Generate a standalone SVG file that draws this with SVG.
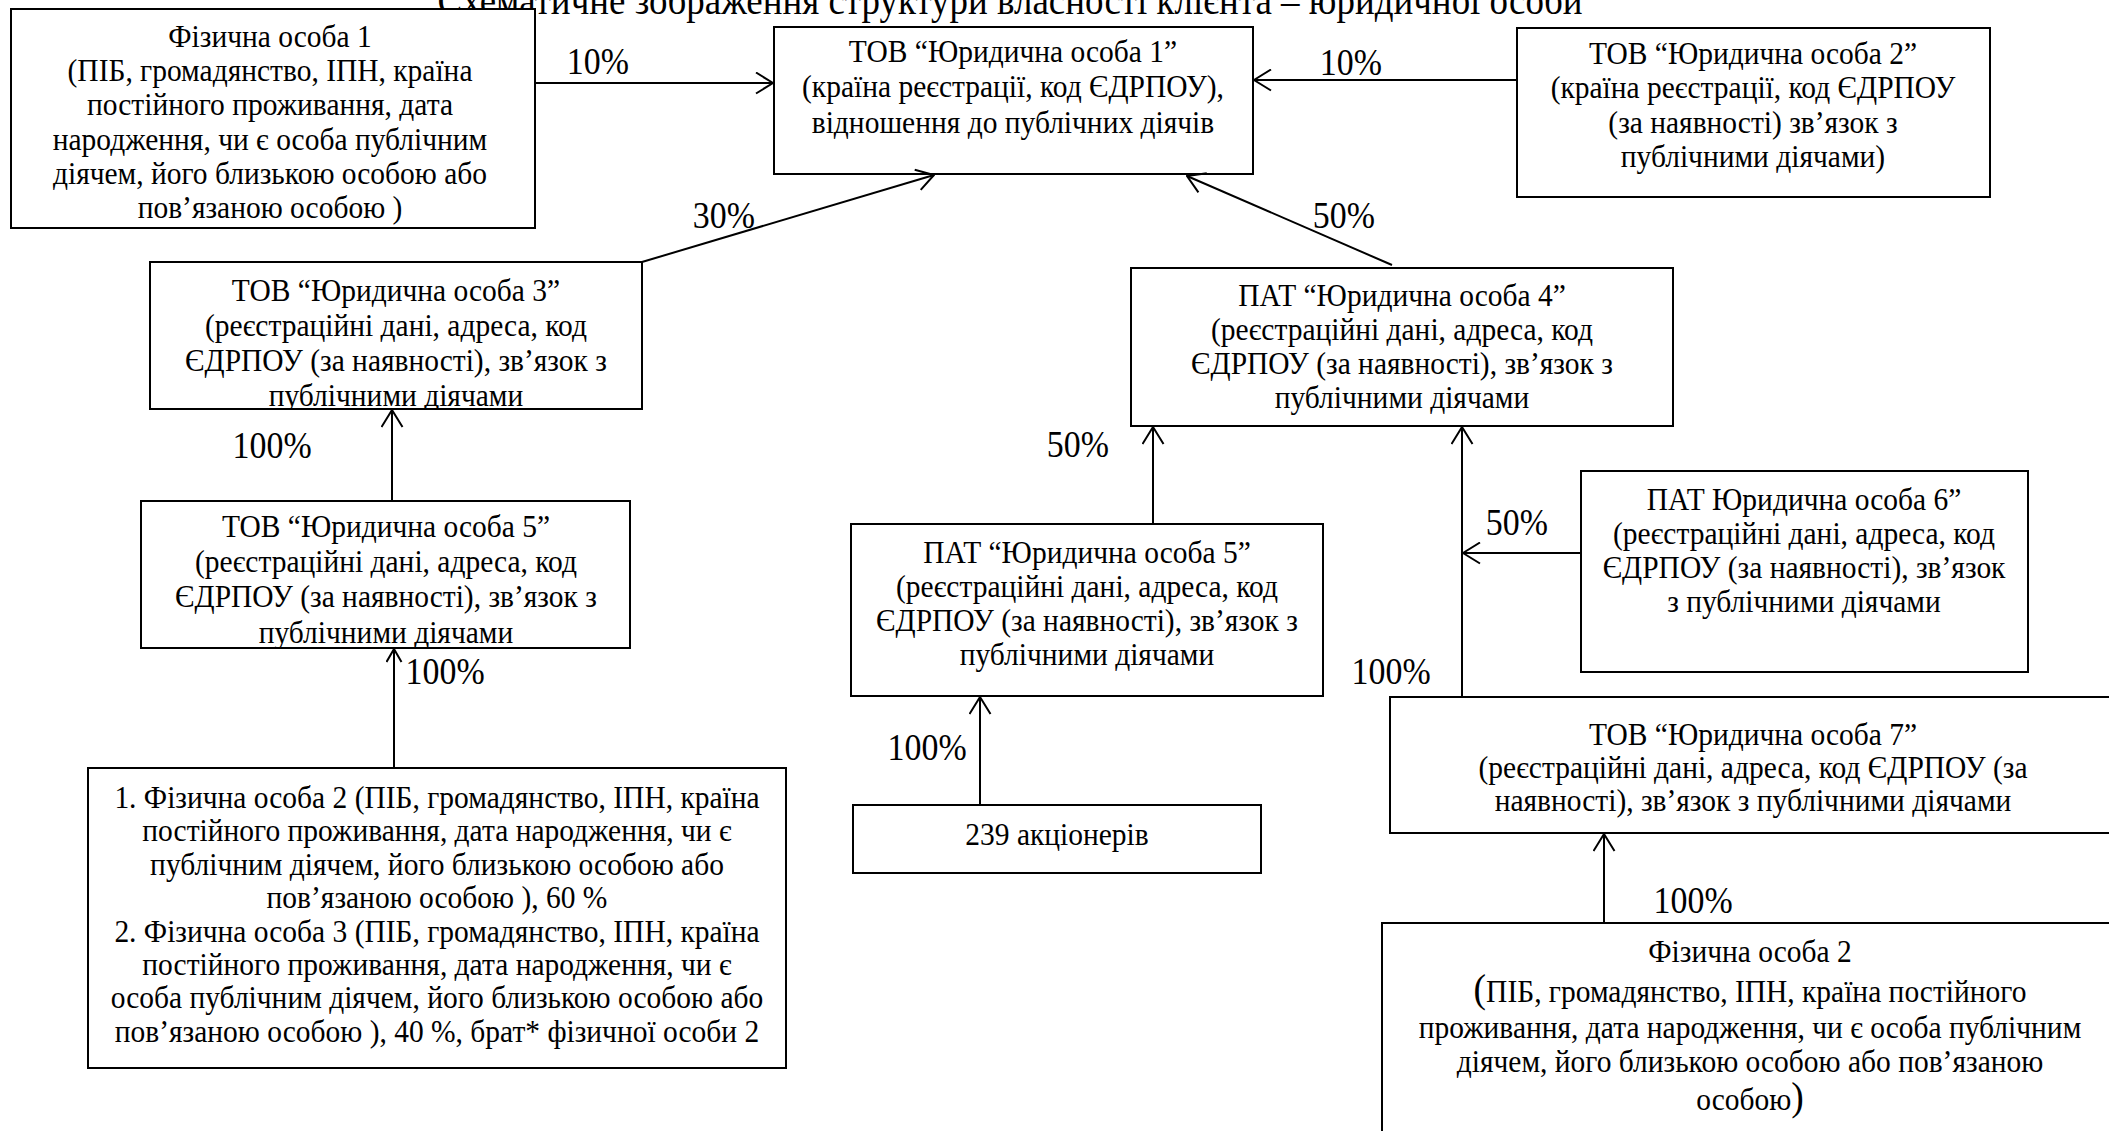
<svg xmlns="http://www.w3.org/2000/svg" width="2109" height="1131" viewBox="0 0 2109 1131">
<style>
.box{fill:#fff;stroke:#000;stroke-width:2}
.t{font-family:"Liberation Serif","Times New Roman",serif;font-size:32.2px;text-anchor:middle;fill:#000;transform-box:fill-box;transform-origin:center;transform:scaleX(0.916)}
.pct{font-family:"Liberation Serif","Times New Roman",serif;font-size:37px;fill:#000;transform-box:fill-box;transform-origin:center;transform:scaleX(0.916)}
.ttl{font-family:"Liberation Serif","Times New Roman",serif;font-size:39px;text-anchor:middle;fill:#000}
.ln{stroke:#000;stroke-width:2;fill:none;marker-end:url(#ah)}
.ln2{stroke:#000;stroke-width:2;fill:none;marker-end:url(#ahs)}
</style>
<defs>
<marker id="ah" viewBox="0 0 19 23" refX="18" refY="11.5" markerWidth="19" markerHeight="23" markerUnits="userSpaceOnUse" orient="auto">
<path d="M1,1 L18,11.5 L1,22" fill="none" stroke="#000" stroke-width="2"/>
</marker>
<marker id="ahs" viewBox="0 0 15 17" refX="14" refY="8.5" markerWidth="15" markerHeight="17" markerUnits="userSpaceOnUse" orient="auto">
<path d="M1,1 L14,8.5 L1,16" fill="none" stroke="#000" stroke-width="2"/>
</marker>
<clipPath id="clip3"><rect x="150" y="262" width="492" height="146"/></clipPath>
<clipPath id="clip5"><rect x="141" y="501" width="489" height="146"/></clipPath>
</defs>
<rect width="2109" height="1131" fill="#fff"/>

<text class="ttl" x="1010" y="14" textLength="1145" lengthAdjust="spacingAndGlyphs">Схематичне зображення структури власності клієнта – юридичної особи</text>

<g id="fo1">
<rect class="box" x="11" y="9" width="524" height="219"/>
<text class="t" x="270" y="47">Фізична особа 1</text>
<text class="t" x="270" y="81">(ПІБ, громадянство, ІПН, країна</text>
<text class="t" x="270" y="115">постійного проживання, дата</text>
<text class="t" x="270" y="150">народження, чи є особа публічним</text>
<text class="t" x="270" y="184">діячем, його близькою особою або</text>
<text class="t" x="270" y="218">пов’язаною особою )</text>
</g>

<g id="yo1">
<rect class="box" x="774" y="27" width="479" height="147"/>
<text class="t" x="1013" y="62">ТОВ “Юридична особа 1”</text>
<text class="t" x="1013" y="97">(країна реєстрації, код ЄДРПОУ),</text>
<text class="t" x="1013" y="133">відношення до публічних діячів</text>
</g>

<g id="yo2">
<rect class="box" x="1517" y="28" width="473" height="169"/>
<text class="t" x="1753" y="64">ТОВ “Юридична особа 2”</text>
<text class="t" x="1753" y="98">(країна реєстрації, код ЄДРПОУ</text>
<text class="t" x="1753" y="133">(за наявності) зв’язок з</text>
<text class="t" x="1753" y="167">публічними діячами)</text>
</g>

<g id="yo3">
<rect class="box" x="150" y="262" width="492" height="147"/>
<g clip-path="url(#clip3)">
<text class="t" x="396" y="301">ТОВ “Юридична особа 3”</text>
<text class="t" x="396" y="336">(реєстраційні дані, адреса, код</text>
<text class="t" x="396" y="371">ЄДРПОУ (за наявності), зв’язок з</text>
<text class="t" x="396" y="406">публічними діячами</text>
</g>
</g>

<g id="yo5tov">
<rect class="box" x="141" y="501" width="489" height="147"/>
<g clip-path="url(#clip5)">
<text class="t" x="386" y="537">ТОВ “Юридична особа 5”</text>
<text class="t" x="386" y="572">(реєстраційні дані, адреса, код</text>
<text class="t" x="386" y="607">ЄДРПОУ (за наявності), зв’язок з</text>
<text class="t" x="386" y="643">публічними діячами</text>
</g>
</g>

<g id="yo4">
<rect class="box" x="1131" y="268" width="542" height="158"/>
<text class="t" x="1402" y="306">ПАТ “Юридична особа 4”</text>
<text class="t" x="1402" y="340">(реєстраційні дані, адреса, код</text>
<text class="t" x="1402" y="374">ЄДРПОУ (за наявності), зв’язок з</text>
<text class="t" x="1402" y="408">публічними діячами</text>
</g>

<g id="pat5">
<rect class="box" x="851" y="524" width="472" height="172"/>
<text class="t" x="1087" y="563">ПАТ “Юридична особа 5”</text>
<text class="t" x="1087" y="597">(реєстраційні дані, адреса, код</text>
<text class="t" x="1087" y="631">ЄДРПОУ (за наявності), зв’язок з</text>
<text class="t" x="1087" y="665">публічними діячами</text>
</g>

<g id="yo6">
<rect class="box" x="1581" y="471" width="447" height="201"/>
<text class="t" x="1804" y="510">ПАТ Юридична особа 6”</text>
<text class="t" x="1804" y="544">(реєстраційні дані, адреса, код</text>
<text class="t" x="1804" y="578">ЄДРПОУ (за наявності), зв’язок</text>
<text class="t" x="1804" y="612">з публічними діячами</text>
</g>

<g id="yo7">
<rect class="box" x="1390" y="697" width="726" height="136"/>
<text class="t" x="1753" y="745">ТОВ “Юридична особа 7”</text>
<text class="t" x="1753" y="778">(реєстраційні дані, адреса, код ЄДРПОУ (за</text>
<text class="t" x="1753" y="811">наявності), зв’язок з публічними діячами</text>
</g>

<g id="sh239">
<rect class="box" x="853" y="805" width="408" height="68"/>
<text class="t" x="1057" y="845">239 акціонерів</text>
</g>

<g id="fo23">
<rect class="box" x="88" y="768" width="698" height="300"/>
<text class="t" x="437" y="808">1. Фізична особа 2 (ПІБ, громадянство, ІПН, країна</text>
<text class="t" x="437" y="841">постійного проживання, дата народження, чи є</text>
<text class="t" x="437" y="875">публічним діячем, його близькою особою або</text>
<text class="t" x="437" y="908">пов’язаною особою ), 60 %</text>
<text class="t" x="437" y="942">2. Фізична особа 3 (ПІБ, громадянство, ІПН, країна</text>
<text class="t" x="437" y="975">постійного проживання, дата народження, чи є</text>
<text class="t" x="437" y="1008">особа публічним діячем, його близькою особою або</text>
<text class="t" x="437" y="1042">пов’язаною особою ), 40 %, брат* фізичної особи 2</text>
</g>

<g id="fo2r">
<rect class="box" x="1382" y="923" width="735" height="220"/>
<text class="t" x="1750" y="962">Фізична особа 2</text>
<text class="t" x="1750" y="1002"><tspan font-size="41">(</tspan>ПІБ, громадянство, ІПН, країна постійного</text>
<text class="t" x="1750" y="1038">проживання, дата народження, чи є особа публічним</text>
<text class="t" x="1750" y="1072">діячем, його близькою особою або пов’язаною</text>
<text class="t" x="1750" y="1110">особою<tspan font-size="41">)</tspan></text>
</g>

<g id="connectors">
<line class="ln" x1="535" y1="83" x2="773" y2="83"/>
<line class="ln" x1="1517" y1="80" x2="1254" y2="80"/>
<line class="ln" x1="642" y1="262" x2="934" y2="175"/>
<line class="ln" x1="1392" y1="265" x2="1187" y2="176"/>
<line class="ln" x1="392" y1="501" x2="392" y2="410"/>
<line class="ln2" x1="394" y1="768" x2="394" y2="649"/>
<line class="ln" x1="1153" y1="524" x2="1153" y2="427"/>
<line class="ln" x1="1462" y1="697" x2="1462" y2="427"/>
<line class="ln" x1="1581" y1="553" x2="1463" y2="553"/>
<line class="ln" x1="980" y1="805" x2="980" y2="697"/>
<line class="ln" x1="1604" y1="923" x2="1604" y2="834"/>
<text class="pct" x="564" y="74">10%</text>
<text class="pct" x="1317" y="75">10%</text>
<text class="pct" x="690" y="228">30%</text>
<text class="pct" x="1310" y="228">50%</text>
<text class="pct" x="229" y="458">100%</text>
<text class="pct" x="402" y="684">100%</text>
<text class="pct" x="1044" y="457">50%</text>
<text class="pct" x="1348" y="684">100%</text>
<text class="pct" x="1483" y="535">50%</text>
<text class="pct" x="884" y="760">100%</text>
<text class="pct" x="1650" y="913">100%</text>
</g>
</svg>
